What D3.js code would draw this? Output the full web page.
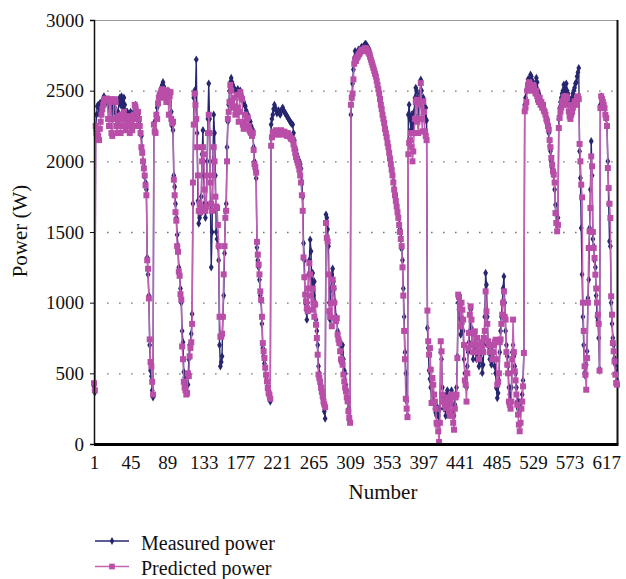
<!DOCTYPE html>
<html>
<head>
<meta charset="utf-8">
<script src="https://cdn.jsdelivr.net/npm/d3@7"></script>
<style>
  html, body { margin: 0; padding: 0; background: #fff; }
  svg { display: block; }
  text { font-family: "Liberation Serif", "Times New Roman", serif; fill: #111; }
</style>
</head>
<body>
<svg id="chart" width="626" height="579"></svg>
<script>
// ---- data ----
const seriesNames = ["Measured power", "Predicted power"];
const xTickLabels = [1, 45, 89, 133, 177, 221, 265, 309, 353, 397, 441, 485, 529, 573, 617];
const yTickValues = [0, 500, 1000, 1500, 2000, 2500, 3000];
const xTitle = "Number";
const yTitle = "Power (W)";

const measuredPower = [
  410,365,
  2220,2330,2390,2400,2340,2410,
  2410,2380,2430,2440,2460,2430,
  2440,2430,2420,2400,2380,2350,2400,2380,2300,2400,2350,2380,2300,
  2250,2300,2350,2420,2450,2400,2460,2430,2380,2450,2400,2300,2350,
  2350,2330,2300,2250,2350,2300,2280,2300,2350,2380,2400,2370,2320,
  2330,2280,2250,2200,2180,2080,2000,1960,1890,1850,1800,
  1320,1200,1050,700,520,480,380,330,
  2270,2230,2290,2330,2380,2400,2450,2480,
  2500,2520,2540,2560,2530,2500,2480,2450,2470,2500,2450,2420,2480,2350,2250,2220,
  1900,1820,1700,1600,1480,
  1400,1250,1200,1100,1000,800,720,510,470,420,380,430,420,600,700,700,780,920,
  1700,2450,2500,2480,2720,2200,1720,1560,1600,1630,1750,2050,2220,1900,1700,1600,1700,2000,2300,2550,2300,1700,1250,1500,2000,2330,2200,1900,1500,1450,1400,
  1300,700,550,580,620,900,1050,1350,1650,1700,
  2100,2280,
  2400,2500,2560,2590,2560,2540,2520,2510,2500,2490,2500,2510,2500,2490,2500,2480,2460,2430,2420,2400,2390,2360,2340,2330,2300,2290,2280,2250,2230,
  2220,2100,2000,1930,1880,1390,1300,1250,1163,1050,1010,850,679,620,570,538,480,443,400,350,320,300,
  2260,2300,2330,2370,2400,2380,2360,2340,2350,2360,2340,2330,2350,2370,2380,2360,2350,2340,2330,2320,2310,2300,2290,2280,2270,2265,
  2260,2200,2150,2100,2080,2050,2030,2010,2000,1980,1950,1850,1750,1420,1300,
  1000,950,880,1000,
  1200,1300,1446,1363,1100,1210,1050,1150,
  1000,880,800,700,550,500,
  420,380,350,320,280,230,180,
  1623,1600,1520,1400,1000,880,1100,1200,1240,1150,1100,1000,900,892,800,750,740,700,680,650,700,600,520,500,420,380,300,250,200,160,
  2330,2450,
  2550,2650,2730,2780,2760,2750,2770,2790,2780,2790,2800,2810,2800,2810,2820,2830,2830,2820,
  2810,2800,2790,2770,2750,2720,2700,2680,2660,2630,2610,2580,2550,
  2520,2490,2460,2420,2380,2340,2310,2280,2240,2210,2180,2140,2110,2070,2030,1990,1950,
  1910,1860,1810,1770,1730,1690,1650,1610,1560,1520,
  1460,1380,1300,1100,900,650,500,300,200,
  2330,
  2400,2300,2220,2330,2250,2200,2350,2450,2520,2500,2450,2330,2400,2480,2578,2500,2300,2450,2380,2290,2380,2290,
  821,680,520,460,400,300,
  400,350,300,250,220,200,260,200,150,250,650,600,400,330,
  250,300,200,350,380,320,250,300,349,380,280,220,200,280,350,400,
  620,1000,950,892,774,900,850,800,600,500,430,400,550,650,720,800,950,820,700,600,700,720,
  650,600,700,620,550,585,650,600,503,560,700,900,
  1210,1127,900,700,650,600,
  679,561,600,650,600,550,
  500,396,325,360,450,650,
  800,900,1000,1100,1186,1000,
  800,700,620,550,400,350,300,400,650,700,620,550,
  500,400,300,250,300,280,250,300,350,450,650,
  2400,
  2450,2500,2531,2580,2560,2590,2613,2600,2570,2560,2540,2520,2550,2590,2560,2500,2480,2460,2440,2420,2400,2380,2360,2340,2330,2300,2280,2250,
  2200,2106,2071,2000,1950,1920,1900,1800,1693,1620,1550,1600,
  2300,2377,2420,2450,2480,2500,2542,2520,2500,2550,
  2500,2480,2450,2420,2400,2430,2450,2480,2500,2520,2550,2560,2600,2630,2660,
  2071,1882,1528,1200,900,700,500,480,
  560,656,1033,1163,1528,1800,2142,1900,
  1450,1400,1300,1250,1050,900,870,750,530,
  2400,2460,2450,2430,2400,2380,2330,
  2300,2248,2000,1700,1434,1400,1000,850,750,700,608,560,500,450
];

const predictedPower = [
  430,380,
  2250,2200,2160,2180,2150,2230,
  2280,2330,2370,2400,2430,2440,
  2440,2445,2440,2300,2250,2420,2440,2200,2180,2300,2430,2440,2420,
  2250,2200,2280,2320,2250,2200,2330,2300,2250,2350,2300,2220,2300,
  2280,2320,2250,2200,2300,2280,2220,2250,2330,2400,2380,2300,2250,
  2350,2300,2250,2200,2100,2060,2000,1950,1900,1830,1760,
  1300,1240,1030,740,580,550,440,350,
  2260,2210,2200,2330,2300,2410,2450,2470,
  2480,2500,2510,2490,2450,2500,2480,2420,2500,2480,2330,2460,2490,2300,2270,2280,
  1870,1760,1640,1580,1400,
  1360,1220,1190,1060,1020,690,600,440,400,380,350,360,500,480,620,680,720,850,
  1850,2260,2480,2400,2300,2100,1900,1650,1700,1640,1670,2000,2100,2050,1800,1650,1680,1900,2200,2330,2200,1850,1700,1650,1900,2100,2000,1750,1680,1670,1550,
  1400,900,760,760,780,900,1200,1400,1600,1650,
  2000,2300,
  2350,2420,2540,2500,2430,2380,2450,2390,2330,2350,2470,2380,2280,2350,2490,2450,2440,2260,2230,2280,2330,2240,2300,2310,2250,2220,2210,2200,2180,
  2200,2080,1980,1960,1920,1430,1340,1270,1200,1080,1020,900,714,656,608,540,490,443,396,360,349,320,
  2110,2170,2200,2190,2210,2200,2220,2190,2200,2210,2190,2200,2220,2210,2190,2200,2210,2200,2190,2180,2200,2190,2180,2170,2160,2160,
  2150,2120,2090,2060,2030,2010,1990,1970,1940,1900,1850,1760,1650,1320,1180,
  1057,1009,962,940,
  1100,1280,1200,1050,950,1100,1000,900,
  986,844,750,632,491,467,
  440,400,373,340,302,280,260,
  1564,1458,1434,1200,940,900,1000,833,1163,1104,1000,892,870,890,774,740,714,656,600,585,561,491,443,400,373,330,302,231,184,150,
  2400,2450,
  2480,2580,2690,2720,2710,2730,2740,2750,2760,2770,2780,2790,2780,2790,2790,2800,2800,2790,
  2780,2770,2760,2740,2720,2700,2680,2660,2640,2620,2600,2570,2540,
  2510,2480,2440,2400,2370,2330,2300,2270,2230,2200,2170,2130,2100,2060,2020,1980,1940,
  1900,1850,1800,1760,1720,1680,1640,1600,1550,1500,
  1450,1400,1250,1050,800,600,320,250,190,
  2050,
  2130,2150,2200,2100,2000,2070,2200,2300,2420,2436,2280,2200,2300,2400,2554,2300,2212,2425,2350,2212,2180,2150,
  944,727,632,679,526,290,
  467,420,350,300,250,150,137,90,14,150,727,656,349,300,
  302,280,255,300,330,280,230,200,300,350,200,150,101,250,330,349,
  608,1057,1040,962,833,1000,950,880,700,450,420,300,500,680,786,915,974,880,703,650,780,797,
  700,650,750,700,600,650,700,720,680,650,750,800,
  1080,939,850,727,700,650,
  700,650,600,650,700,720,
  738,600,420,440,500,720,
  740,850,915,1000,1080,900,
  880,650,561,500,300,278,250,300,600,880,650,514,
  450,350,278,208,137,90,150,250,300,408,644,
  2354,
  2380,2420,2500,2540,2560,2550,2540,2520,2500,2540,2530,2500,2480,2500,2460,2436,2420,2450,2400,2420,2380,2400,2360,2350,2330,2300,2283,2250,
  2224,2150,2100,2024,1976,1929,1906,1850,1634,1564,1505,1550,
  2236,2307,2350,2380,2425,2400,2450,2460,2440,2460,
  2448,2400,2354,2318,2300,2330,2350,2380,2400,2425,2420,2400,2450,2460,2440,
  2123,2000,1835,1745,1000,800,550,490,
  384,608,1000,1387,1505,1670,2035,1965,
  1500,1387,1316,1198,1100,1000,915,850,519,
  2377,2460,2440,2420,2400,2377,2330,
  2307,2250,1953,1811,1700,1599,1045,915,714,656,585,491,432,420
];

// ---- layout ----
const svg = d3.select("#chart");
const plot = { left: 94, right: 617, top: 20, bottom: 444 };
const N = Math.max(measuredPower.length, predictedPower.length);

const x = d3.scaleLinear().domain([1, N]).range([plot.left, plot.right]);
const y = d3.scaleLinear().domain([0, 3000]).range([plot.bottom, plot.top]);

const navy = "#272770";
const pinkLine = "#c061b3";
const pinkMark = "#b94ea8";

// dotted gridlines
svg.append("g").selectAll("line")
  .data(yTickValues.filter(v => v > 0 && v < 3000))
  .join("line")
  .attr("x1", plot.left + 13).attr("x2", plot.right)
  .attr("y1", d => y(d) + 0.5).attr("y2", d => y(d) + 0.5)
  .attr("stroke", "#777").attr("stroke-width", 1.4)
  .attr("stroke-dasharray", "1.6,10.4");

// top border (thin gray) and right border
svg.append("line")
  .attr("x1", plot.left).attr("x2", plot.right + 1)
  .attr("y1", plot.top + 0.5).attr("y2", plot.top + 0.5)
  .attr("stroke", "#999").attr("stroke-width", 1);
svg.append("line")
  .attr("x1", plot.right + 0.5).attr("x2", plot.right + 0.5)
  .attr("y1", plot.top).attr("y2", plot.bottom)
  .attr("stroke", "#111").attr("stroke-width", 2);

// series
const lineGen = d3.line().x((d, i) => x(i + 1)).y(d => y(d));

function drawSeries(values, lineColor, markColor, symbolType, symbolSize, lw) {
  const g = svg.append("g");
  g.append("path")
    .datum(values)
    .attr("fill", "none")
    .attr("stroke", lineColor)
    .attr("stroke-width", lw)
    .attr("stroke-linejoin", "round")
    .attr("d", lineGen);
  const sym = d3.symbol().type(symbolType).size(symbolSize);
  g.selectAll("path.m")
    .data(values)
    .join("path")
    .attr("class", "m")
    .attr("transform", (d, i) => `translate(${x(i + 1)},${y(d)})`)
    .attr("d", sym)
    .attr("fill", markColor);
}

drawSeries(measuredPower, navy, navy, d3.symbolDiamond, 20, 1.4);
drawSeries(predictedPower, pinkLine, pinkMark, d3.symbolSquare, 36, 1.5);

// y axis
const yAxis = d3.axisLeft(y).tickValues(yTickValues).tickSize(4).tickPadding(6).tickFormat(d3.format("d"));
const gy = svg.append("g").attr("transform", `translate(${plot.left},0)`).call(yAxis);
gy.select(".domain").attr("stroke", "#111").attr("stroke-width", 1.5);
gy.selectAll(".tick line").attr("stroke", "#111");
gy.selectAll(".tick text").attr("font-size", 19).attr("font-family", "Liberation Serif").attr("fill", "#111");

// x axis (thick baseline)
svg.append("line")
  .attr("x1", plot.left).attr("x2", plot.right + 1.5)
  .attr("y1", plot.bottom + 0.5).attr("y2", plot.bottom + 0.5)
  .attr("stroke", "#000").attr("stroke-width", 3.2);
const xAxis = d3.axisBottom(x).tickValues(xTickLabels).tickSize(0).tickPadding(10).tickFormat(d3.format("d"));
const gx = svg.append("g").attr("transform", `translate(0,${plot.bottom + 2})`).call(xAxis);
gx.select(".domain").remove();
gx.selectAll(".tick text").attr("font-size", 19).attr("font-family", "Liberation Serif").attr("fill", "#111");

// axis titles
svg.append("text")
  .attr("x", 383).attr("y", 499)
  .attr("text-anchor", "middle")
  .attr("font-size", 21)
  .text(xTitle);
svg.append("text")
  .attr("transform", "translate(27,231) rotate(-90)")
  .attr("text-anchor", "middle")
  .attr("font-size", 21)
  .text(yTitle);

// legend
const legend = svg.append("g");
const legendRows = [
  { name: seriesNames[0], color: navy, mark: navy, type: d3.symbolDiamond, size: 18, y: 541 },
  { name: seriesNames[1], color: pinkLine, mark: pinkMark, type: d3.symbolSquare, size: 32, y: 566.5 }
];
legendRows.forEach(r => {
  legend.append("line")
    .attr("x1", 95).attr("x2", 129)
    .attr("y1", r.y).attr("y2", r.y)
    .attr("stroke", r.color).attr("stroke-width", 1.6);
  legend.append("path")
    .attr("transform", `translate(112,${r.y})`)
    .attr("d", d3.symbol().type(r.type).size(r.size)())
    .attr("fill", r.mark);
  legend.append("text")
    .attr("x", 141).attr("y", r.y + 8.5)
    .attr("font-size", 20)
    .text(r.name);
});
</script>
</body>
</html>
